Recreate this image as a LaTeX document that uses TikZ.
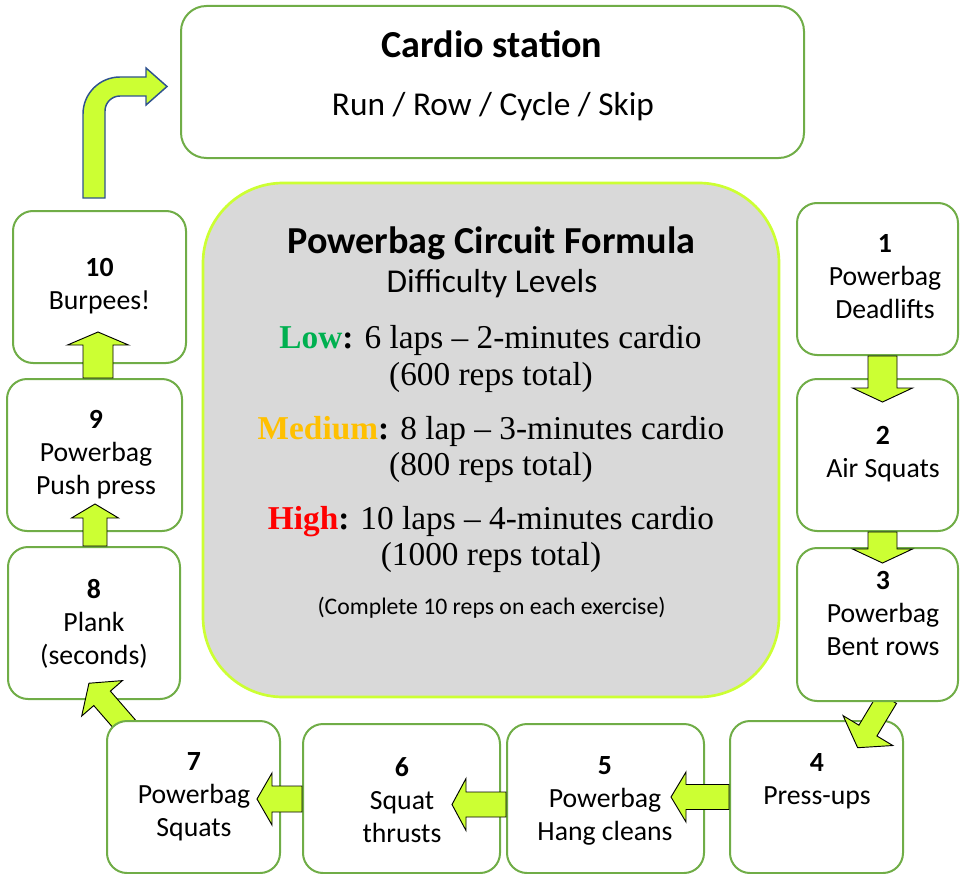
\documentclass[tikz,border=0pt]{standalone}
\usepackage{fontspec}
\setmainfont{Carlito}
\newfontfamily\timesf{Liberation Serif}
\usetikzlibrary{calc}
\pgfdeclarelayer{back}
\pgfdeclarelayer{mid}
\pgfsetlayers{back,mid,main}
\definecolor{boxgreen}{HTML}{70AD47}
\definecolor{limefill}{HTML}{CCFF33}
\definecolor{greyfill}{HTML}{D9D9D9}
\definecolor{arrowblue}{HTML}{2F528F}
\definecolor{lowgreen}{HTML}{00B050}
\definecolor{medgold}{HTML}{FFC000}
\definecolor{highred}{HTML}{FF0000}
\newcommand{\blockarrow}[6]{%
  \begin{scope}[shift={#1},rotate=#2]
    \draw[blockarrow] (0,-#4) -- ({#3-#6},-#4) -- ({#3-#6},-#5) -- (#3,0) -- ({#3-#6},#5) -- ({#3-#6},#4) -- (0,#4) -- cycle;
  \end{scope}}
\tikzset{
  box/.style={draw=boxgreen, line width=1.5pt, fill=white, rounded corners=15pt, inner sep=0pt},
  lbl/.style={align=center, font=\fontsize{20.8}{24.75}\selectfont, inner sep=0pt},
  blockarrow/.style={draw=black, line width=0.7pt, fill=limefill, line join=miter},
  ctitle/.style={anchor=base, inner sep=0pt, font=\bfseries\fontsize{28.6}{34}\selectfont},
  csub/.style={anchor=base, inner sep=0pt, font=\fontsize{25}{30}\selectfont},
  ctimes/.style={anchor=base, inner sep=0pt, font=\timesf\fontsize{25}{30}\selectfont},
  csmall/.style={anchor=base, inner sep=0pt, font=\fontsize{17.8}{21}\selectfont}
}
\begin{document}
\begin{tikzpicture}[x=0.75pt, y=-0.75pt]
\useasboundingbox (0,0) rectangle (960,874);

\begin{pgfonlayer}{back}
  \node[box, rounded corners=19pt, minimum width=467.25pt, minimum height=114pt] (cardio) at (492.5,82) {};
  \node[draw=limefill, line width=2pt, fill=greyfill, rounded corners=60pt, minimum width=432pt, minimum height=385.5pt, inner sep=0pt] (formula) at (491,440) {};
  \node[box, minimum width=120.75pt, minimum height=114pt] (b1) at (877.5,279) {};
  \node[box, minimum width=120.75pt, minimum height=114pt] (b2) at (877.5,455) {};
  \node[box, minimum width=129.75pt, minimum height=114pt] (b4) at (816.5,797) {};
  \node[box, minimum width=147.75pt, minimum height=111.75pt] (b5) at (605.5,798.5) {};
  \node[box, minimum width=147.75pt, minimum height=111.75pt] (b6) at (401.5,798.5) {};
  \node[box, minimum width=129pt, minimum height=114pt] (b8) at (94,623) {};
  \node[box, minimum width=131.25pt, minimum height=114pt] (b9) at (94.5,455) {};
  \node[box, minimum width=129.75pt, minimum height=114pt] (b10) at (99.5,287) {};
\end{pgfonlayer}

\node[box, minimum width=120.75pt, minimum height=114.75pt] (b3) at (877.5,624.5) {};
\node[box, minimum width=129.75pt, minimum height=114pt] (b7) at (193.5,797) {};

% texts
\node[ctitle] (t-cardio) at (492,58) {Cardio station};
\node[csub] (t-run) at (493,115) {Run / Row / Cycle / Skip};
\node[ctitle] (t-title) at (491.5,253) {Powerbag Circuit Formula};
\node[csub] (t-diff) at (492,292) {Difficulty Levels};
\node[ctimes] (t-low) at (490.5,348) {\textbf{\textcolor{lowgreen}{Low}:} 6 laps – 2-minutes cardio};
\node[ctimes] (t-low2) at (491,385) {(600 reps total)};
\node[ctimes] (t-med) at (491,439) {\textbf{\textcolor{medgold}{Medium}:} 8 lap – 3-minutes cardio};
\node[ctimes] (t-med2) at (491,475) {(800 reps total)};
\node[ctimes] (t-high) at (491,529) {\textbf{\textcolor{highred}{High}:} 10 laps – 4-minutes cardio};
\node[ctimes] (t-high2) at (491,565) {(1000 reps total)};
\node[csmall] (t-note) at (491.5,614) {(Complete 10 reps on each exercise)};

\node[lbl] (l1) at (885,277) {\textbf{1}\\Powerbag\\Deadlifts};
\node[lbl] (l2) at (883,454.5) {\textbf{2}\\Air Squats};
\node[lbl] (l3) at (883,614) {\textbf{3}\\Powerbag\\Bent rows};
\node[lbl] (l4) at (817,781.5) {\textbf{4}\\Press-ups};
\node[lbl] (l5) at (605,800.5) {\textbf{5}\\Powerbag\\Hang cleans};
\node[lbl] (l6) at (402,800) {\textbf{6}\\Squat\\thrusts};
\node[lbl] (l7) at (194,796.5) {\textbf{7}\\Powerbag\\Squats};
\node[lbl] (l8) at (94,623.5) {\textbf{8}\\Plank\\(seconds)};
\node[lbl] (l9) at (96,455) {\textbf{9}\\Powerbag\\Push press};
\node[lbl] (l10) at (99.5,286.5) {\textbf{10}\\Burpees!};

% straight arrows
\blockarrow{($(b1.south)+(5,0)$)}{-90}{46}{14.5}{30}{14}
\blockarrow{($(b2.south)+(5,0)$)}{-90}{31}{14.5}{30}{14}
\blockarrow{(b4.west)}{180}{58}{12.5}{25}{15}
\blockarrow{($(b5.west)+(0,6)$)}{180}{54}{12.5}{26}{14}
\blockarrow{($(b6.west)+(0,0.5)$)}{180}{45}{13}{26}{15}
\blockarrow{($(b8.north)+(1,0)$)}{90}{42}{12}{23.5}{14}
\blockarrow{($(b9.north)+(3.5,0)$)}{90}{46}{15}{30.5}{13}

% diagonal arrows (under source box, over target box)
\begin{pgfonlayer}{mid}
\blockarrow{($(b3.south)+(10,-4)$)}{239}{58}{10.5}{29}{20}
\blockarrow{($(b7.north west)+(21,7)$)}{131}{58}{11}{27}{20}
\end{pgfonlayer}

% bent arrow to cardio station
\coordinate (bs) at ($(b10.north)+(-5.5,-12)$);
\begin{scope}[shift={(bs)}]
  \draw[fill=limefill, draw=arrowblue, line width=1.1pt, line join=miter]
    (-11,0) -- (-11,-84) arc[start angle=180, end angle=270, radius=37]
    -- (52,-121) -- (52,-130) -- (73,-111.5) -- (52,-93) -- (52,-102) -- (26,-102)
    arc[start angle=270, end angle=180, radius=15] -- (11,0) -- cycle;
\end{scope}
\end{tikzpicture}
\end{document}
